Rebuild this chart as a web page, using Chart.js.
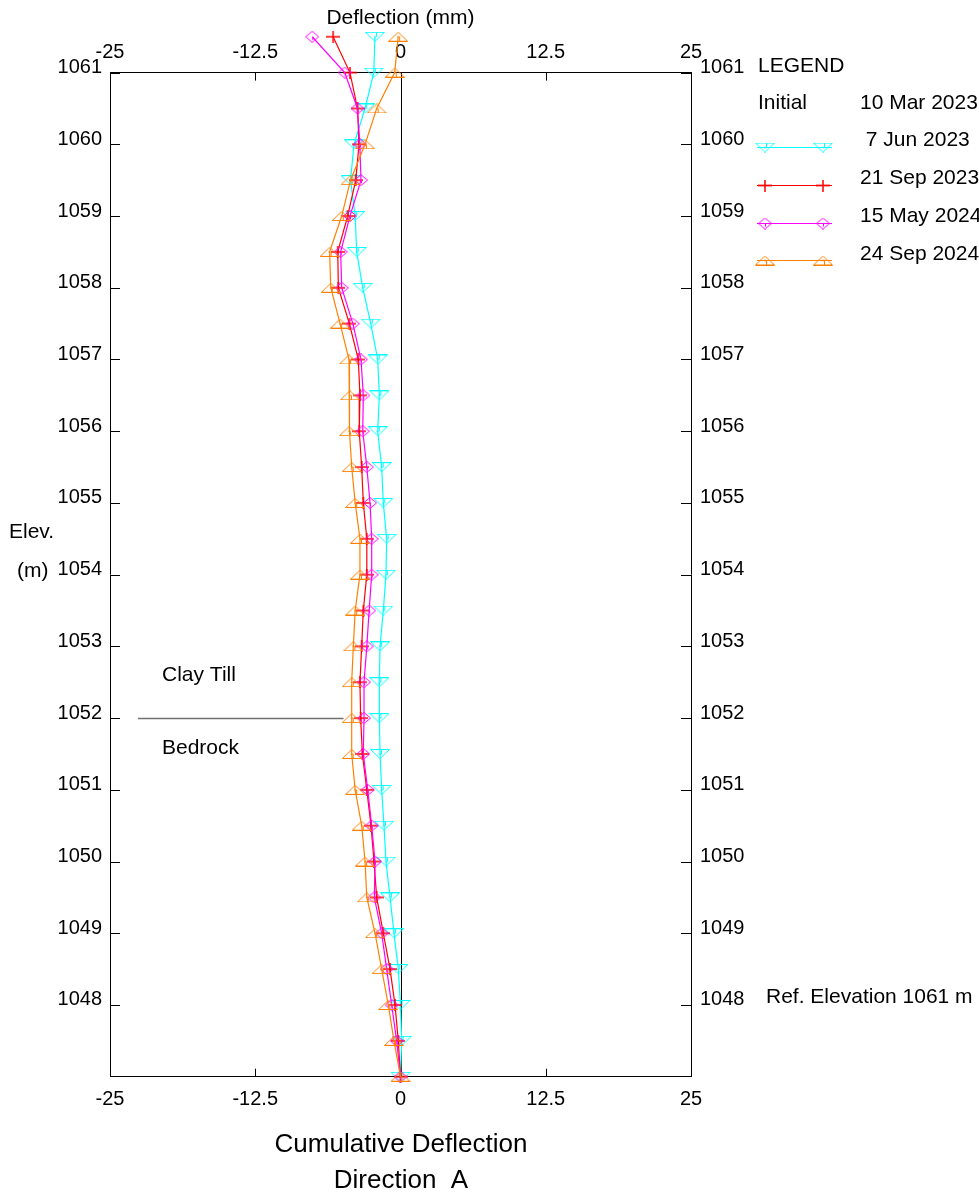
<!DOCTYPE html>
<html><head><meta charset="utf-8">
<script src="https://cdn.jsdelivr.net/npm/chart.js@4/dist/chart.umd.min.js"></script>
<style>html,body{margin:0;padding:0;background:#fff;overflow:hidden}canvas{display:block}</style>
</head><body>
<canvas id="c" width="979" height="1196"></canvas>
<script>
// ---------- DATA ----------
const elevations = [1061.5,1061,1060.5,1060,1059.5,1059,1058.5,1058,1057.5,1057,1056.5,1056,1055.5,1055,1054.5,1054,1053.5,1053,1052.5,1052,1051.5,1051,1050.5,1050,1049.5,1049,1048.5,1048,1047.5,1047];
const jun2023 = [-2.2,-2.3,-3.05,-4.0,-4.3,-3.9,-3.77,-3.25,-2.56,-1.96,-1.82,-1.96,-1.62,-1.48,-1.19,-1.25,-1.48,-1.76,-1.82,-1.82,-1.76,-1.62,-1.42,-1.25,-0.9,-0.56,-0.19,0.0,0.1,0];
const sep2023 = [-5.8,-4.35,-3.7,-3.57,-3.85,-4.55,-5.4,-5.35,-4.4,-3.63,-3.49,-3.55,-3.34,-3.2,-2.9,-2.9,-3.2,-3.34,-3.49,-3.43,-3.28,-2.9,-2.54,-2.28,-2.05,-1.48,-0.9,-0.47,-0.19,0];
const may2024 = [-7.6,-4.8,-3.7,-3.5,-3.4,-4.35,-5.15,-5.06,-4.1,-3.4,-3.2,-3.25,-2.9,-2.62,-2.48,-2.48,-2.7,-2.9,-3.14,-3.14,-3.2,-2.82,-2.48,-2.19,-2.25,-1.62,-1.19,-0.76,-0.33,0];
const sep2024 = [-0.2,-0.5,-2.05,-3.05,-4.3,-5.06,-6.1,-6.0,-5.2,-4.43,-4.35,-4.43,-4.2,-3.9,-3.49,-3.49,-3.9,-4.06,-4.2,-4.2,-4.2,-3.9,-3.34,-3.05,-2.9,-2.19,-1.62,-1.05,-0.56,0];
const seriesLabels = [' 7 Jun 2023','21 Sep 2023','15 May 2024','24 Sep 2024'];
const initialLabel = '10 Mar 2023';
const xTickValues = [-25,-12.5,0,12.5,25];
const yTickValues = [1048,1049,1050,1051,1052,1053,1054,1055,1056,1057,1058,1059,1060,1061];
const stratumElev = 1052;
const stratumFrom = -22.6;
const stratumTo = -4.9;
const upperLayer = 'Clay Till';
const lowerLayer = 'Bedrock';
const refElevationText = 'Ref. Elevation 1061 m';

// ---------- STYLES ----------
const FONT = 'Arial, "Liberation Sans", Helvetica, sans-serif';
const colors = ['#00ffff','#ff0000','#ff00ff','#ff8000'];

function triCanvas(color, down){
  const c=document.createElement('canvas'); c.width=20; c.height=10;
  const g=c.getContext('2d'); g.strokeStyle=color; g.lineWidth=1;
  g.beginPath();
  if(down){ g.moveTo(0.5,0.5); g.lineTo(19.5,0.5); g.lineTo(10,9.5); }
  else { g.moveTo(0.5,9.5); g.lineTo(19.5,9.5); g.lineTo(10,0.5); }
  g.closePath(); g.stroke();
  g.beginPath();
  if(down){ g.moveTo(11.5,0.5); g.lineTo(11.5,5); g.lineTo(9,5);} else { g.moveTo(11.5,9.5); g.lineTo(11.5,5); g.lineTo(9,5);}
  g.stroke();
  return c;
}
function diamondCanvas(color){
  const c=document.createElement('canvas'); c.width=14; c.height=12;
  const g=c.getContext('2d'); g.strokeStyle=color; g.lineWidth=1;
  g.beginPath(); g.moveTo(7,0.5); g.lineTo(13.5,6); g.lineTo(7,11.5); g.lineTo(0.5,6); g.closePath(); g.stroke();
  g.beginPath(); g.moveTo(7.5,6); g.lineTo(7.5,9); g.stroke();
  return c;
}
function crossCanvas(color){
  const c=document.createElement('canvas'); c.width=14; c.height=12;
  const g=c.getContext('2d'); g.strokeStyle=color; g.lineWidth=1.5;
  g.beginPath(); g.moveTo(0,6); g.lineTo(14,6); g.moveTo(7,0); g.lineTo(7,12); g.stroke();
  return c;
}
const markers = [triCanvas(colors[0],true), crossCanvas(colors[1]), diamondCanvas(colors[2]), triCanvas(colors[3],false)];
const seriesValues = [jun2023, sep2023, may2024, sep2024];

const datasets = seriesValues.map((vals,i)=>({
  label: seriesLabels[i],
  data: elevations.map((e,j)=>({x: vals[j], y: e})),
  showLine: true,
  borderColor: colors[i],
  backgroundColor: colors[i],
  borderWidth: 1.2,
  pointStyle: markers[i],
  pointRadius: 7,
  pointHoverRadius: 7,
  clip: false,
  fill: false,
  tension: 0,
  order: 3 - i
}));

const overlay = {
  id: 'overlay',
  beforeDatasetsDraw(chart){
    const ctx=chart.ctx, a=chart.chartArea;
    const xs=chart.scales.x, ys=chart.scales.y;
    ctx.save();
    const x0 = Math.round(xs.getPixelForValue(0))+0.5;
    ctx.strokeStyle='#000'; ctx.lineWidth=1;
    ctx.beginPath(); ctx.moveTo(x0,a.top); ctx.lineTo(x0,a.bottom); ctx.stroke();
    ctx.beginPath();
    yTickValues.forEach(v=>{
      const y=Math.round(ys.getPixelForValue(v))+0.5;
      ctx.moveTo(a.left,y); ctx.lineTo(a.left+10,y);
      ctx.moveTo(a.right-10,y); ctx.lineTo(a.right,y);
    });
    xTickValues.forEach(v=>{
      const x=Math.round(xs.getPixelForValue(v))+0.5;
      ctx.moveTo(x,a.bottom); ctx.lineTo(x,a.bottom-8);
      ctx.moveTo(x,a.top); ctx.lineTo(x,a.top+8);
    });
    ctx.stroke();
    const ly=Math.round(ys.getPixelForValue(stratumElev))+0.5;
    ctx.strokeStyle='#707070'; ctx.lineWidth=1.3;
    ctx.beginPath(); ctx.moveTo(xs.getPixelForValue(stratumFrom),ly); ctx.lineTo(xs.getPixelForValue(stratumTo),ly); ctx.stroke();
    ctx.fillStyle='#000'; ctx.font='21px '+FONT; ctx.textAlign='left'; ctx.textBaseline='middle';
    ctx.fillText(upperLayer, 162, ly-43);
    ctx.fillText(lowerLayer, 162, ly+30);
    ctx.restore();
  },
  afterDatasetsDraw(chart){
    // markers lying above the plot area (library skips them)
    const ctx=chart.ctx, a=chart.chartArea;
    ctx.save();
    for(let i=chart.data.datasets.length-1;i>=0;i--){
      const meta=chart.getDatasetMeta(i);
      const m=chart.data.datasets[i].pointStyle;
      meta.data.forEach(p=>{
        if(p.y < a.top - 0.5){
          ctx.drawImage(m, p.x-m.width/2, p.y-m.height/2);
        }
      });
    }
    ctx.restore();
  },
  afterDraw(chart){
    const ctx=chart.ctx;
    ctx.save();
    ctx.fillStyle='#000'; ctx.textBaseline='middle';
    ctx.font='21px '+FONT;
    ctx.textAlign='center';
    ctx.fillText('Deflection (mm)', 400.5, 18);
    ctx.textAlign='left';
    ctx.fillText('Elev.', 9, 532);
    ctx.fillText('(m)', 17, 571);
    ctx.fillText(refElevationText, 766, 997);
    ctx.fillText('LEGEND', 758, 66);
    ctx.fillText('Initial', 758, 103);
    ctx.fillText(initialLabel, 860, 103);
    chart.data.datasets.forEach((ds,i)=>{
      const y = 146.7 + i*37.9;
      ctx.strokeStyle=ds.borderColor; ctx.lineWidth=1.2;
      ctx.beginPath(); ctx.moveTo(757,Math.round(y)+0.5); ctx.lineTo(832,Math.round(y)+0.5); ctx.stroke();
      const m=ds.pointStyle;
      ctx.drawImage(m, 765-m.width/2, Math.round(y)-m.height/2+0.5);
      ctx.drawImage(m, 823-m.width/2, Math.round(y)-m.height/2+0.5);
      ctx.fillStyle='#000';
      ctx.fillText(ds.label, 860, y-6);
    });
    ctx.textAlign='center';
    ctx.font='26px '+FONT;
    ctx.fillText('Cumulative Deflection', 401, 1145);
    ctx.fillText('Direction  A', 401, 1181);
    ctx.restore();
  }
};

const tickFont = {family: FONT, size: 20};
function xScale(pos, h, pad){
  return {
    type:'linear', position:pos, min:-25, max:25,
    afterBuildTicks: s=>{ s.ticks = xTickValues.map(v=>({value:v})); },
    afterFit: s=>{ s.height = h; },
    ticks:{ color:'#000', font:tickFont, padding:pad, maxRotation:0, autoSkip:false, callback:v=>String(v) },
    grid:{ display:false, drawTicks:false },
    border:{ display:true, color:'#000', width:1 }
  };
}
function yScale(pos, w, pad){
  return {
    type:'linear', position:pos, min:1047, max:1061,
    afterBuildTicks: s=>{ s.ticks = yTickValues.map(v=>({value:v})); },
    afterFit: s=>{ s.width = w; },
    ticks:{ color:'#000', font:tickFont, padding:pad, labelOffset:-5, autoSkip:false, callback:v=>String(v) },
    grid:{ display:false, drawTicks:false },
    border:{ display:true, color:'#000', width:1 }
  };
}

new Chart(document.getElementById('c'), {
  type:'scatter',
  data:{ datasets },
  options:{
    responsive:false, animation:false, devicePixelRatio:1,
    layout:{ padding:0 },
    plugins:{ legend:{display:false}, tooltip:{enabled:false} },
    scales:{
      x: xScale('bottom', 119.3, 11),
      x2: xScale('top', 72.6, 8.6),
      y: yScale('left', 110, 8),
      y2: yScale('right', 288, 9)
    }
  },
  plugins:[overlay]
});
</script>
</body></html>
